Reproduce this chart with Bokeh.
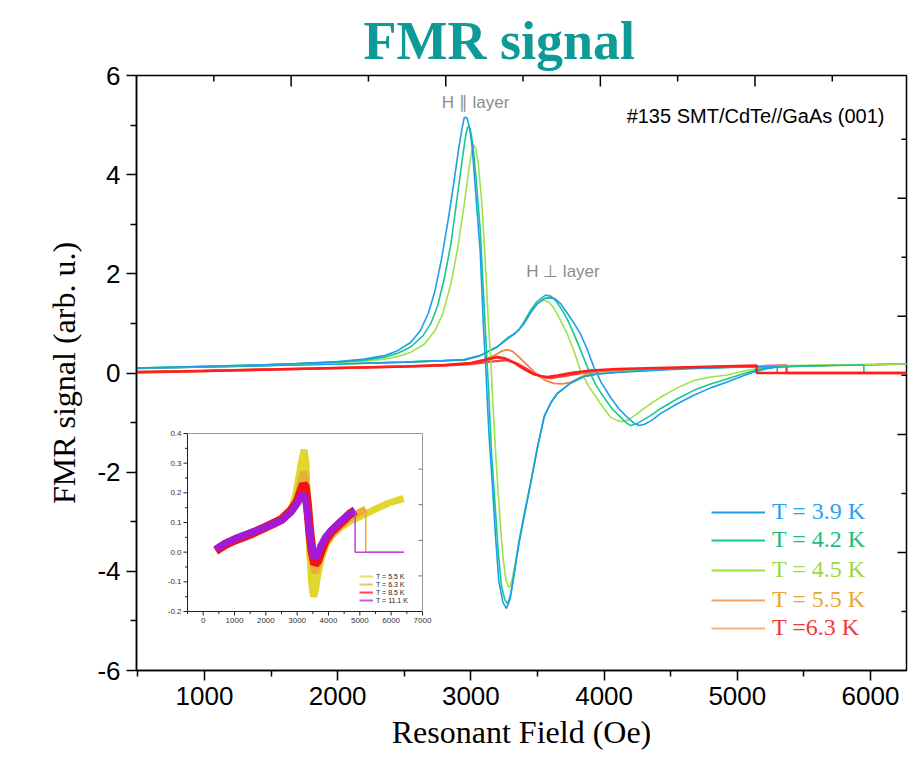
from bokeh.plotting import figure
from bokeh.models import Range1d, FixedTicker, Legend, LegendItem, Label
from bokeh.embed import file_html
from bokeh.resources import INLINE
from bokeh.core.properties import value

# ---------------- data ----------------
x_ticks = [1000, 2000, 3000, 4000, 5000, 6000]
x_minor = [500, 1500, 2500, 3500, 4500, 5500]
y_ticks = [-6, -4, -2, 0, 2, 4, 6]
y_tick_labels = ["-6", "-4", "-2", "0", "2", "4", "6"]
y_minor = [-5, -3, -1, 1, 3, 5]
top_ticks = [1000, 2000, 3000, 4000]
top_minor = [500, 1500, 2500, 3500, 4500]
right_ticks = [1, 2, 3, 4]
right_minor = [0.5, 1.5, 2.5, 3.5, 4.5]

# T = 3.9 K, H parallel
b_par_x = [490, 800, 1100, 1400, 1700, 2000, 2200, 2350, 2450, 2550, 2620, 2680, 2730, 2780, 2830, 2870, 2910, 2935, 2950, 2970, 2990, 3010, 3040, 3070, 3095, 3110, 3135, 3160, 3185, 3210, 3240, 3267, 3295, 3325, 3360, 3400, 3450, 3500, 3550, 3600, 3650, 3750, 3850, 3950, 4100, 4300, 4600, 4900, 5100, 5300, 5300, 6270]
b_par_y = [0.10, 0.12, 0.14, 0.16, 0.19, 0.23, 0.28, 0.35, 0.45, 0.62, 0.85, 1.2, 1.65, 2.3, 3.1, 3.8, 4.55, 4.95, 5.15, 5.15, 4.95, 4.55, 3.5, 2.45, 0.9, 0.2, -1.2, -2.2, -3.3, -4.2, -4.62, -4.75, -4.55, -4.05, -3.45, -2.9, -2.2, -1.5, -0.88, -0.6, -0.41, -0.2, -0.07, -0.02, 0.01, 0.04, 0.08, 0.11, 0.12, 0.13, 0.0, 0.0]
# T = 4.2 K, H parallel
g_par_x = [490, 800, 1100, 1400, 1700, 2000, 2200, 2350, 2450, 2550, 2640, 2700, 2750, 2800, 2850, 2900, 2940, 2962, 2977, 2995, 3015, 3040, 3070, 3095, 3118, 3132, 3155, 3180, 3205, 3230, 3255, 3277, 3300, 3330, 3360, 3400, 3450, 3500, 3550, 3600, 3650, 3750, 3850, 3950, 4100, 4300, 4600, 4900, 5100, 5400, 5700, 5950, 5950, 6270]
g_par_y = [0.10, 0.12, 0.14, 0.16, 0.19, 0.22, 0.26, 0.32, 0.40, 0.53, 0.75, 1.0, 1.35, 1.9, 2.6, 3.6, 4.4, 4.8, 4.97, 4.92, 4.6, 3.9, 2.9, 1.6, 0.4, -0.3, -1.6, -2.6, -3.6, -4.3, -4.58, -4.66, -4.45, -3.95, -3.4, -2.85, -2.2, -1.5, -0.88, -0.6, -0.41, -0.2, -0.07, -0.02, 0.02, 0.05, 0.09, 0.11, 0.13, 0.14, 0.15, 0.16, 0.0, 0.0]
# T = 4.5 K, H parallel
l_par_x = [490, 800, 1100, 1400, 1700, 2000, 2200, 2350, 2450, 2550, 2650, 2730, 2790, 2850, 2900, 2950, 2985, 3005, 3017, 3035, 3055, 3080, 3105, 3130, 3150, 3165, 3190, 3215, 3240, 3262, 3280, 3292, 3310, 3340, 3370, 3400, 3450, 3500, 3550, 3600, 3650, 3750, 3850, 3950, 4100, 4300, 4600, 4900, 5200, 5600, 6000, 6270]
l_par_y = [0.10, 0.12, 0.14, 0.16, 0.18, 0.21, 0.24, 0.28, 0.33, 0.42, 0.58, 0.85, 1.2, 1.8, 2.5, 3.4, 4.1, 4.45, 4.61, 4.55, 4.25, 3.5, 2.4, 1.1, 0.2, -0.6, -1.8, -2.8, -3.7, -4.15, -4.3, -4.32, -4.15, -3.75, -3.3, -2.85, -2.2, -1.5, -0.88, -0.6, -0.41, -0.2, -0.07, -0.02, 0.02, 0.06, 0.1, 0.12, 0.14, 0.16, 0.17, 0.18]
# T = 3.9 K, H perpendicular
b_perp_x = [490, 1000, 1500, 2000, 2500, 2800, 2950, 3070, 3200, 3280, 3320, 3360, 3400, 3450, 3500, 3550, 3590, 3630, 3673, 3720, 3770, 3823, 3870, 3923, 3980, 4048, 4110, 4173, 4220, 4260, 4300, 4360, 4423, 4550, 4673, 4800, 4924, 5030, 5124, 5210, 5297, 5500, 5800, 6050, 6270]
b_perp_y = [0.09, 0.12, 0.15, 0.18, 0.22, 0.25, 0.27, 0.35, 0.53, 0.7, 0.78, 0.87, 1.0, 1.22, 1.4, 1.5, 1.52, 1.5, 1.4, 1.22, 1.02, 0.79, 0.5, 0.12, -0.2, -0.49, -0.72, -0.89, -1.0, -1.06, -1.04, -0.95, -0.82, -0.62, -0.45, -0.3, -0.18, -0.07, 0.02, 0.08, 0.12, 0.14, 0.16, 0.17, 0.18]
# T = 4.2 K, H perpendicular
g_perp_x = [490, 1000, 1500, 2000, 2500, 2800, 2950, 3070, 3200, 3280, 3322, 3360, 3397, 3447, 3500, 3560, 3600, 3640, 3690, 3730, 3773, 3830, 3885, 3940, 3998, 4060, 4123, 4165, 4198, 4240, 4298, 4360, 4423, 4550, 4673, 4800, 4924, 5050, 5174, 5300, 5500, 5800, 6050, 6270]
g_perp_y = [0.09, 0.12, 0.15, 0.18, 0.22, 0.25, 0.26, 0.35, 0.53, 0.72, 0.78, 0.87, 1.02, 1.26, 1.45, 1.57, 1.55, 1.45, 1.25, 1.05, 0.79, 0.42, 0.05, -0.25, -0.49, -0.72, -0.89, -1.0, -1.06, -1.03, -0.94, -0.84, -0.72, -0.52, -0.35, -0.22, -0.12, -0.01, 0.08, 0.12, 0.14, 0.16, 0.17, 0.18]
# T = 4.5 K, H perpendicular
l_perp_x = [490, 1000, 1500, 2000, 2500, 2800, 2950, 3070, 3200, 3280, 3322, 3360, 3397, 3447, 3500, 3547, 3590, 3630, 3673, 3723, 3773, 3823, 3880, 3948, 4000, 4048, 4100, 4136, 4180, 4240, 4298, 4360, 4423, 4550, 4673, 4800, 4924, 5050, 5174, 5350, 5600, 5900, 6270]
l_perp_y = [0.09, 0.12, 0.15, 0.18, 0.22, 0.25, 0.27, 0.36, 0.53, 0.7, 0.77, 0.87, 1.02, 1.25, 1.4, 1.47, 1.42, 1.28, 1.06, 0.79, 0.45, 0.05, -0.25, -0.52, -0.72, -0.89, -0.96, -0.98, -0.95, -0.84, -0.72, -0.6, -0.49, -0.3, -0.15, -0.08, -0.04, 0.04, 0.1, 0.13, 0.15, 0.17, 0.18]
# T = 5.5 K
o_x = [490, 1000, 1500, 2000, 2500, 2800, 3000, 3100, 3180, 3230, 3272, 3310, 3350, 3400, 3447, 3500, 3560, 3622, 3690, 3748, 3810, 3873, 3950, 4100, 4300, 4600, 5000, 5400, 5800, 6270]
o_y = [0.02, 0.05, 0.08, 0.1, 0.13, 0.16, 0.2, 0.26, 0.36, 0.44, 0.47, 0.44, 0.35, 0.22, 0.1, -0.04, -0.15, -0.21, -0.22, -0.19, -0.1, -0.02, 0.02, 0.06, 0.08, 0.1, 0.12, 0.14, 0.16, 0.18]
# T = 6.3 K and higher (red)
ra_x = [490, 1000, 1500, 2000, 2500, 2800, 3000, 3100, 3197, 3260, 3330, 3400, 3470, 3522, 3572, 3650, 3750, 3900, 4100, 4400, 4700, 5000, 5145, 5145, 6270]
ra_y = [0.02, 0.04, 0.07, 0.1, 0.13, 0.16, 0.2, 0.26, 0.32, 0.29, 0.2, 0.08, -0.02, -0.06, -0.08, -0.05, 0.0, 0.05, 0.08, 0.1, 0.12, 0.14, 0.15, 0.0, 0.0]
rb_x = [490, 1000, 1500, 2000, 2500, 2800, 3000, 3150, 3272, 3340, 3420, 3480, 3540, 3600, 3700, 3850, 4000, 4300, 4700, 5000, 5200, 5370, 5370, 6270]
rb_y = [0.01, 0.04, 0.07, 0.1, 0.13, 0.15, 0.18, 0.23, 0.26, 0.2, 0.08, -0.02, -0.08, -0.1, -0.06, 0.01, 0.05, 0.08, 0.11, 0.13, 0.14, 0.15, 0.0, 0.0]

legend_labels = ["T = 3.9 K", "T = 4.2 K", "T = 4.5 K", "T = 5.5 K", "T =6.3 K"]

# inset
inset_xlim = [-500, 7000]
inset_ylim = [-0.2, 0.4]
inset_x_ticks = [0, 1000, 2000, 3000, 4000, 5000, 6000, 7000]
inset_x_labels = ["0", "1000", "2000", "3000", "4000", "5000", "6000", "7000"]
inset_x_minor = [-500, 500, 1500, 2500, 3500, 4500, 5500, 6500]
inset_y_ticks = [-0.2, -0.1, 0.0, 0.1, 0.2, 0.3, 0.4]
inset_y_labels = ["-0.2", "-0.1", "0.0", "0.1", "0.2", "0.3", "0.4"]
inset_y_minor = [-0.15, -0.05, 0.05, 0.15, 0.25, 0.35]
inset_right_ticks = [-0.08, 0.04, 0.16, 0.28]
inset_labels = ["T = 5.5 K", "T = 6.3 K", "T = 8.5 K", "T = 11.1 K"]

iy5_x = [400, 600, 800, 1000, 1300, 1600, 2000, 2300, 2600, 2800, 2950, 3050, 3150, 3223, 3280, 3340, 3400, 3460, 3521, 3580, 3650, 3750, 3900, 4100, 4400, 4700, 5000, 5300, 5600, 5900, 6200, 6400]
iy5_y = [0.01, 0.02, 0.03, 0.04, 0.05, 0.065, 0.08, 0.095, 0.115, 0.14, 0.19, 0.25, 0.31, 0.345, 0.3, 0.15, 0.0, -0.1, -0.15, -0.13, -0.08, -0.03, 0.02, 0.055, 0.085, 0.105, 0.12, 0.135, 0.15, 0.165, 0.175, 0.18]
i63_x = [400, 700, 1000, 1500, 2000, 2500, 2800, 3000, 3100, 3200, 3250, 3320, 3400, 3480, 3570, 3650, 3750, 3900, 4100, 4400, 4700, 5000, 5190]
i63_y = [0.01, 0.03, 0.045, 0.065, 0.085, 0.11, 0.14, 0.18, 0.23, 0.27, 0.26, 0.18, 0.06, -0.03, -0.07, -0.05, -0.01, 0.03, 0.06, 0.09, 0.115, 0.135, 0.145]
i63_tail_x = [5190, 5190, 6400]
i63_tail_y = [0.145, 0.0, 0.0]
i85_x = [400, 700, 1000, 1500, 2000, 2500, 2800, 3000, 3100, 3200, 3260, 3330, 3400, 3480, 3560, 3650, 3750, 3900, 4100, 4400, 4700, 4850]
i85_y = [0.005, 0.025, 0.04, 0.06, 0.085, 0.11, 0.14, 0.17, 0.2, 0.23, 0.22, 0.16, 0.07, 0.0, -0.04, -0.03, 0.0, 0.04, 0.07, 0.1, 0.13, 0.14]
i111_x = [400, 700, 1000, 1500, 2000, 2500, 2800, 3000, 3100, 3200, 3260, 3330, 3400, 3480, 3550, 3650, 3750, 3900, 4100, 4400, 4700, 4850]
i111_y = [0.01, 0.03, 0.045, 0.065, 0.085, 0.107, 0.135, 0.165, 0.185, 0.195, 0.18, 0.13, 0.06, 0.005, -0.02, -0.01, 0.02, 0.05, 0.075, 0.105, 0.13, 0.14]
i111_tail_x = [4850, 4850, 6400]
i111_tail_y = [0.14, 0.0, 0.0]

# ---------------- styles / layout ----------------
BLUE, GREEN, LIME, ORANGE, RED = "#1e9cf0", "#14c98a", "#9ee24a", "#f2843f", "#ff1e1e"
leg_line_colors = [BLUE, GREEN, LIME, "#f5a064", "#f7b07e"]
leg_text_colors = ["#2a9ff2", "#1cbd7c", "#9ad844", "#e8a735", "#f03a3a"]
leg_rows = [145, 117, 87, 57, 29]
NAN = float("nan")

FL, FR, FT, FB = 136, 906, 75, 670
W, H = 924, 765
XR = (490, 6270)
YR = (-6, 6)

p = figure(width=W, height=H, output_backend="svg", toolbar_location=None,
           x_range=Range1d(*XR), y_range=Range1d(*YR),
           min_border_left=FL, min_border_right=W - FR, min_border_top=FT, min_border_bottom=H - FB)
p.background_fill_color = "white"
p.border_fill_color = "white"
p.outline_line_color = "black"
p.outline_line_width = 1.5
p.xgrid.visible = False
p.ygrid.visible = False

p.title.text = "FMR signal"
p.title.text_font = "Liberation Serif"
p.title.text_font_size = "54px"
p.title.text_font_style = "bold"
p.title.text_color = "#0e9a97"
p.title.align = "left"
p.title.offset = 227
p.title.standoff = 10

def style_axis(ax):
    ax.axis_line_color = "black"
    ax.axis_line_width = 1.5
    ax.major_tick_line_color = "black"
    ax.major_tick_line_width = 1.5
    ax.minor_tick_line_color = "black"
    ax.minor_tick_line_width = 1.5
    ax.major_label_text_font = "Liberation Sans"
    ax.major_label_text_font_size = "26px"
    ax.major_label_text_color = "black"
    ax.axis_label_text_font = "Liberation Serif"
    ax.axis_label_text_font_size = "32px"
    ax.axis_label_text_font_style = "normal"
    ax.axis_label_text_color = "black"

xa = p.xaxis[0]
style_axis(xa)
xa.ticker = FixedTicker(ticks=x_ticks, minor_ticks=x_minor)
xa.axis_label = "Resonant Field (Oe)"
xa.major_tick_out, xa.major_tick_in = 10, 0
xa.minor_tick_out, xa.minor_tick_in = 6, 0
xa.major_label_standoff = 6
xa.axis_label_standoff = 6

ya = p.yaxis[0]
style_axis(ya)
ya.ticker = FixedTicker(ticks=y_ticks, minor_ticks=y_minor)
ya.major_label_overrides = {t: s for t, s in zip(y_ticks, y_tick_labels)}
ya.axis_label = "FMR signal (arb. u.)"
ya.major_tick_out, ya.major_tick_in = 10, 0
ya.minor_tick_out, ya.minor_tick_in = 6, 0
ya.major_label_standoff = 6
ya.axis_label_standoff = 12

# secondary (unlabelled) top and right tick scales, drawn as inward ticks
p.extra_x_ranges = {"top": Range1d(0, 4980)}
p.extra_y_ranges = {"right": Range1d(0, 5.04)}
kyp = (YR[1] - YR[0]) / (FB - FT)
kxp = (XR[1] - XR[0]) / (FR - FL)
n = len(top_ticks)
p.segment(x0=top_ticks, x1=top_ticks, y0=[YR[1]] * n, y1=[YR[1] - 11 * kyp] * n,
          line_color="black", line_width=1.5, x_range_name="top")
n = len(top_minor)
p.segment(x0=top_minor, x1=top_minor, y0=[YR[1]] * n, y1=[YR[1] - 6 * kyp] * n,
          line_color="black", line_width=1.5, x_range_name="top")
n = len(right_ticks)
p.segment(x0=[XR[1]] * n, x1=[XR[1] - 9 * kxp] * n, y0=right_ticks, y1=right_ticks,
          line_color="black", line_width=1.5, y_range_name="right")
n = len(right_minor)
p.segment(x0=[XR[1]] * n, x1=[XR[1] - 5 * kxp] * n, y0=right_minor, y1=right_minor,
          line_color="black", line_width=1.5, y_range_name="right")

# ---------------- main curves ----------------
p.line(rb_x, rb_y, line_color=RED, line_width=2.4, line_alpha=0.85)
p.line(o_x, o_y, line_color=ORANGE, line_width=1.8)
p.line(l_perp_x, l_perp_y, line_color=LIME, line_width=1.6)
p.line(g_perp_x, g_perp_y, line_color=GREEN, line_width=1.6)
p.line(b_perp_x, b_perp_y, line_color=BLUE, line_width=1.6)
p.line(l_par_x, l_par_y, line_color=LIME, line_width=1.6)
p.line(g_par_x, g_par_y, line_color=GREEN, line_width=1.6)
p.line(b_par_x, b_par_y, line_color=BLUE, line_width=1.6)
p.line(ra_x, ra_y, line_color=RED, line_width=2.6)

# annotations
p.add_layout(Label(x=3035, y=5.45, text="H \u2225 layer", text_align="center", text_baseline="middle",
                   text_font="Liberation Sans", text_font_size="17px", text_color="#8c8c8c"))
p.add_layout(Label(x=3691, y=2.04, text="H \u22a5 layer", text_align="center", text_baseline="middle",
                   text_font="Liberation Sans", text_font_size="17px", text_color="#8c8c8c"))
p.add_layout(Label(x=6105, y=5.19, text="#135 SMT/CdTe//GaAs (001)", text_align="right", text_baseline="middle",
                   text_font="Liberation Sans", text_font_size="20px", text_color="black"))

# main legend: one legend per row so each label keeps its own colour
for lab, lc, tc, ry in zip(legend_labels, leg_line_colors, leg_text_colors, leg_rows):
    r = p.line(x=[NAN], y=[NAN], line_color=lc, line_width=2)
    lg = Legend(items=[LegendItem(label=lab, renderers=[r])], location=(711 - FL, ry),
                glyph_width=54, glyph_height=24, label_height=24, label_standoff=7,
                padding=0, margin=0, spacing=0, border_line_color=None, background_fill_alpha=0,
                label_text_font="Liberation Serif", label_text_font_size="24px", label_text_color=tc)
    p.add_layout(lg)

# ---------------- inset (drawn on its own ranges) ----------------
IX0, IX1, IY0, IY1 = 187, 422, 433, 611
kx = (inset_xlim[1] - inset_xlim[0]) / (IX1 - IX0)
ky = (inset_ylim[1] - inset_ylim[0]) / (IY1 - IY0)
p.extra_x_ranges["ix"] = Range1d(inset_xlim[0] - (IX0 - FL) * kx, inset_xlim[1] + (FR - IX1) * kx)
p.extra_y_ranges["iy"] = Range1d(inset_ylim[0] - (FB - IY1) * ky, inset_ylim[1] + (IY0 - FT) * ky)
IR = dict(x_range_name="ix", y_range_name="iy")
x0, x1 = inset_xlim
y0, y1 = inset_ylim

p.line(iy5_x, iy5_y, line_color="#e0d62c", line_width=7, **IR)
p.line(i63_x, i63_y, line_color="#e9ae3a", line_width=7, **IR)
p.line(i63_tail_x, i63_tail_y, line_color="#e9ae3a", line_width=1.5, **IR)
p.line(i85_x, i85_y, line_color="#f01414", line_width=9, **IR)
p.line(i111_x, i111_y, line_color="#a21ad8", line_width=7, **IR)
p.line(i111_tail_x, i111_tail_y, line_color="#c040d8", line_width=1.5, **IR)

p.multi_line(xs=[[x0, x0], [x0, x1]], ys=[[y0, y1], [y0, y0]], line_color="#222222", line_width=1, **IR)
p.multi_line(xs=[[x0, x1], [x1, x1]], ys=[[y1, y1], [y0, y1]], line_color="#999999", line_width=1, **IR)
n = len(inset_x_ticks)
p.segment(x0=inset_x_ticks, y0=[y0] * n, x1=inset_x_ticks, y1=[y0 - 4 * ky] * n, line_color="#222222", **IR)
m = len(inset_x_minor)
p.segment(x0=inset_x_minor, y0=[y0] * m, x1=inset_x_minor, y1=[y0 - 2.5 * ky] * m, line_color="#222222", **IR)
n = len(inset_y_ticks)
p.segment(x0=[x0] * n, y0=inset_y_ticks, x1=[x0 - 4 * kx] * n, y1=inset_y_ticks, line_color="#222222", **IR)
m = len(inset_y_minor)
p.segment(x0=[x0] * m, y0=inset_y_minor, x1=[x0 - 2.5 * kx] * m, y1=inset_y_minor, line_color="#222222", **IR)
m = len(inset_right_ticks)
p.segment(x0=[x1] * m, y0=inset_right_ticks, x1=[x1 - 4 * kx] * m, y1=inset_right_ticks, line_color="#777777", **IR)

p.text(x=inset_x_ticks, y=[y0] * len(inset_x_ticks), text=inset_x_labels, text_align="center",
       text_baseline="top", y_offset=6, text_font=value("Liberation Sans"), text_font_size=value("8px"),
       text_color="#333333", **IR)
p.text(x=[x0] * len(inset_y_ticks), y=inset_y_ticks, text=inset_y_labels, text_align="right",
       text_baseline="middle", x_offset=-6, text_font=value("Liberation Sans"), text_font_size=value("8px"),
       text_color="#333333", **IR)

inset_leg_renderers = []
for c in ["#e8e064", "#f0c068", "#ff4646", "#c658e6"]:
    inset_leg_renderers.append(p.line(x=[NAN], y=[NAN], line_color=c, line_width=2, **IR))
ilg = Legend(items=[LegendItem(label=l, renderers=[r]) for l, r in zip(inset_labels, inset_leg_renderers)],
             location=(359 - FL, 66), glyph_width=14, glyph_height=8, label_height=8, label_standoff=3,
             padding=0, margin=0, spacing=0, border_line_color=None, background_fill_alpha=0,
             label_text_font="Liberation Sans", label_text_font_size="7px", label_text_color="#222222")
p.add_layout(ilg)

open("out.html", "w").write(file_html(p, INLINE))
